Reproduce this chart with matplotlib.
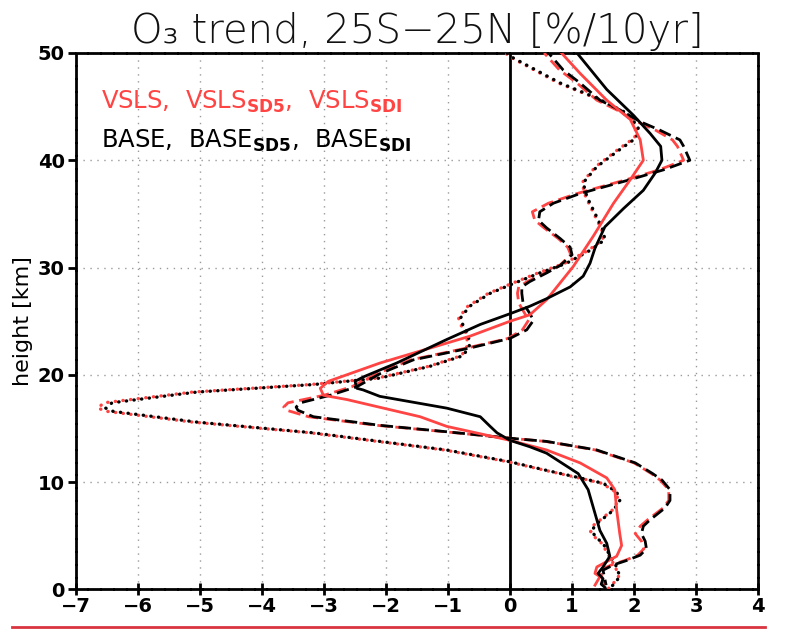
import matplotlib
matplotlib.use("Agg")
import matplotlib.pyplot as plt
from matplotlib.lines import Line2D

# ---------------- data (trend in %/10yr vs height in km) ----------------
base_h = [0.2, 0.5, 1.0, 1.5, 2.1, 3.1, 4.3, 5.5, 7.1, 9.3, 10.8, 12.7, 13.3, 13.9, 14.6, 15.2,
          16.1, 16.9, 18.0, 18.6, 18.75, 19.4, 19.8, 21.1, 23.3, 24.7, 25.7, 26.4, 27.1, 28.2,
          29.2, 30.4, 31.8, 33.8, 35.5, 37.2, 38.8, 40.0, 41.3, 42.5, 44.2, 46.6, 50.0]
base_x = [1.53, 1.47, 1.50, 1.42, 1.50, 1.61, 1.56, 1.45, 1.37, 1.26, 1.10, 0.59, 0.32, 0.0, -0.21, -0.32,
          -0.48, -1.02, -2.10, -2.37, -2.47, -2.50, -2.37, -1.83, -1.02, -0.48, 0.0, 0.32, 0.59, 0.97,
          1.18, 1.29, 1.37, 1.53, 1.83, 2.15, 2.34, 2.45, 2.43, 2.26, 1.99, 1.56, 1.08]

vsls_h = [0.4, 1.2, 1.5, 2.1, 2.6, 3.1, 4.1, 5.2, 7.4, 9.3, 10.4, 11.8, 13.0, 13.9, 15.2, 16.1,
          17.7, 18.1, 18.75, 19.4, 21.1, 23.6, 25.0, 25.6, 27.0, 30.1, 32.9, 36.0, 38.2, 40.0,
          41.9, 43.8, 45.6, 48.1, 50.0]
vsls_x = [1.37, 1.45, 1.37, 1.40, 1.56, 1.72, 1.80, 1.77, 1.72, 1.69, 1.56, 1.13, 0.59, 0.0, -1.02, -1.45,
          -2.63, -3.01, -3.06, -2.93, -2.10, -0.65, 0.0, 0.32, 0.59, 1.02, 1.34, 1.67, 1.94, 2.15,
          2.10, 1.94, 1.56, 1.13, 0.83]

sd5_h = [0.4, 1.8, 2.3, 2.7, 3.2, 3.8, 4.5, 5.2, 5.9, 6.5, 7.6, 8.3, 9.3, 10.2, 10.8, 11.8, 13.0,
         13.8, 14.1, 14.7, 15.3, 16.1, 16.7, 17.0, 17.4, 18.1, 18.9, 20.1, 21.4, 22.5, 23.4, 24.2,
         25.1, 25.9, 26.7, 27.6, 28.2, 28.7, 29.5, 30.2, 31.2, 31.9, 32.7, 33.7, 34.4, 35.2, 36.0,
         36.9, 38.2, 39.1, 40.0, 41.3, 41.9, 42.8, 43.6, 44.7, 45.6, 47.2, 48.4, 50.0]
base_sd5_x = [1.55, 1.50, 1.67, 1.88, 2.10, 2.20, 2.18, 2.12, 2.15, 2.26, 2.50, 2.58, 2.58, 2.45, 2.30,
              2.02, 1.40, 0.59, 0.0, -1.02, -2.10, -3.17, -3.42, -3.45, -3.38, -2.90, -2.47, -2.10,
              -1.56, -0.65, 0.0, 0.27, 0.38, 0.30, 0.21, 0.19, 0.19, 0.32, 0.59, 0.81, 1.00, 0.97,
              0.81, 0.59, 0.46, 0.48, 0.70, 1.13, 1.94, 2.47, 2.90, 2.80, 2.74, 2.42, 2.10, 1.77,
              1.45, 1.13, 0.86, 0.62]
vsls_sd5_x = [1.52, 1.45, 1.64, 1.85, 2.06, 2.16, 2.12, 2.02, 2.10, 2.22, 2.47, 2.56, 2.56, 2.42, 2.28,
              2.00, 1.38, 0.57, 0.0, -1.05, -2.15, -3.25, -3.60, -3.65, -3.58, -3.00, -2.55, -2.15,
              -1.60, -0.70, -0.03, 0.20, 0.30, 0.22, 0.14, 0.12, 0.14, 0.28, 0.56, 0.80, 0.98, 0.93,
              0.78, 0.55, 0.40, 0.36, 0.62, 1.08, 1.88, 2.40, 2.80, 2.70, 2.62, 2.35, 2.05, 1.72,
              1.40, 1.08, 0.80, 0.55]

sdi_h = [0.1, 0.6, 1.2, 2.1, 3.4, 4.3, 4.8, 5.4, 6.0, 6.6, 7.4, 8.3, 9.1, 9.9, 10.4, 11.1, 11.9,
         13.0, 14.6, 15.6, 16.6, 16.9, 17.4, 18.4, 19.1, 19.7, 20.8, 21.8, 22.8, 23.9, 24.5, 25.3,
         26.4, 27.6, 28.5, 29.5, 30.4, 31.6, 32.6, 33.5, 34.7, 36.6, 37.9, 39.4, 41.0, 42.1, 43.1,
         44.4, 45.8, 47.2, 49.7, 50.0]
base_sdi_x = [1.61, 1.69, 1.77, 1.72, 1.59, 1.50, 1.40, 1.32, 1.37, 1.50, 1.67, 1.77, 1.72, 1.50, 1.13,
              0.59, 0.0, -1.02, -3.17, -5.05, -6.40, -6.52, -6.42, -5.05, -3.17, -2.10, -1.29, -0.75,
              -0.65, -0.68, -0.75, -0.80, -0.65, -0.32, 0.05, 0.48, 0.91, 1.29, 1.53, 1.50, 1.40,
              1.24, 1.18, 1.40, 1.77, 2.04, 2.07, 1.88, 1.40, 0.81, 0.0, -0.05]
vsls_sdi_x = [1.59, 1.67, 1.75, 1.70, 1.57, 1.48, 1.38, 1.30, 1.35, 1.48, 1.65, 1.75, 1.70, 1.48, 1.11,
              0.57, -0.03, -1.06, -3.22, -5.12, -6.50, -6.65, -6.55, -5.12, -3.22, -2.14, -1.31,
              -0.78, -0.68, -0.71, -0.78, -0.83, -0.68, -0.35, 0.02, 0.45, 0.88, 1.26, 1.50, 1.48,
              1.38, 1.22, 1.16, 1.38, 1.74, 2.01, 2.05, 1.86, 1.38, 0.78, -0.02, -0.07]

x_ticks = [-7, -6, -5, -4, -3, -2, -1, 0, 1, 2, 3, 4]
y_ticks = [0, 10, 20, 30, 40, 50]

title = 'O\u2083 trend, 25S\u221225N [%/10yr]'
ylabel = 'height [km]'
legend_red = r'VSLS,  VSLS$_{\mathbf{SD5}}$,  VSLS$_{\mathbf{SDI}}$'
legend_black = r'BASE,  BASE$_{\mathbf{SD5}}$,  BASE$_{\mathbf{SDI}}$'

RED = '#ff4444'

# ---------------- figure ----------------
fig = plt.figure(figsize=(7.95, 6.30), dpi=100)
ax = fig.add_axes([0.0956, 0.0643, 0.8579, 0.8516])

ax.set_xlim(-7, 4)
ax.set_ylim(0, 50)

# grid
for xv in x_ticks[1:-1]:
    ax.axvline(xv, color='#9a9a9a', lw=1.0, ls=(0, (1, 4)), zorder=1)
for yv in y_ticks[1:-1]:
    ax.axhline(yv, color='#9a9a9a', lw=1.0, ls=(0, (1, 4)), zorder=1)

# zero line
ax.axvline(0, color='black', lw=2.0, zorder=2)

lw = 2.0
# dotted (SDI)
ax.plot(vsls_sdi_x, sdi_h, color=RED, lw=2.4, ls=(0, (0.1, 2.2)), dash_capstyle='round', zorder=3)
ax.plot(base_sdi_x, sdi_h, color='black', lw=2.4, ls=(1.1, (0.1, 2.2)), dash_capstyle='round', zorder=4)
# dashed (SD5)
ax.plot(vsls_sd5_x, sd5_h, color=RED, lw=lw, ls=(0, (4.5, 2)), zorder=3)
ax.plot(base_sd5_x, sd5_h, color='black', lw=lw, ls=(2.5, (4.5, 2)), zorder=4)
# solid
ax.plot(vsls_x, vsls_h, color=RED, lw=lw, zorder=5)
ax.plot(base_x, base_h, color='black', lw=lw, zorder=5)

# ticks
ax.set_xticks(x_ticks)
ax.set_yticks(y_ticks)
tick_font = dict(family='DejaVu Sans', fontweight='bold', fontsize=14)
ax.set_xticklabels([str(v).replace('-', '\u2212') for v in x_ticks], **tick_font)
ax.set_yticklabels([str(v) for v in y_ticks], **tick_font)
ax.tick_params(axis='x', direction='inout', length=9, width=2, pad=1)
ax.tick_params(axis='y', direction='out', length=6, width=2, pad=2)

for s in ax.spines.values():
    s.set_linewidth(2.0)
    s.set_linestyle((0, (4, 0.6)))

ax.set_ylabel(ylabel, fontsize=16)
ax.yaxis.set_label_coords(-0.063, 0.5)

fig.text(0.525, 0.950, title, ha='center', va='center', fontsize=29, color='#111111',
         fontweight='light')

ax.text(0.036, 0.909, legend_red, transform=ax.transAxes, color=RED, fontsize=17.5, va='center', ha='left')
ax.text(0.036, 0.836, legend_black, transform=ax.transAxes, color='black', fontsize=17.5, va='center', ha='left')

fig.add_artist(Line2D([0.015, 0.962], [0.0045, 0.0045], transform=fig.transFigure,
                      color='#d9343f', lw=2.0))

fig.savefig('out.png', dpi=100)
